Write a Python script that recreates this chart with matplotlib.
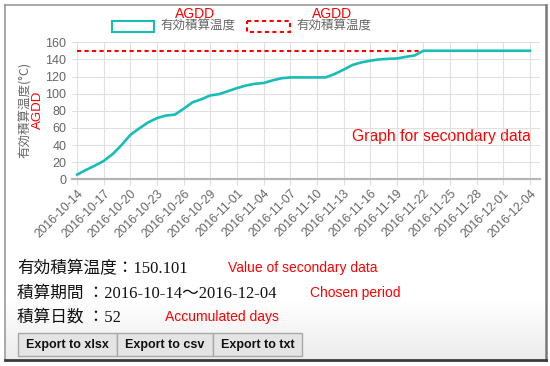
import numpy as np
import pandas as pd
import matplotlib
matplotlib.use('Agg')
import matplotlib.pyplot as plt
import matplotlib.dates as mdates
from matplotlib.patches import Rectangle

# accumulated growing degree days (AGDD), one value per day
start_date = '2016-10-14'
end_date = '2016-12-04'
agdd = [5.5, 11, 16, 21.5, 29.5, 40, 52, 59.5, 66.5, 71.5, 74.5, 75.5, 82.5, 90,
        93.5, 98, 99.5, 103,
        106.5, 109.5, 111.5, 112.5, 115.5, 118, 119, 119, 119, 119, 119, 123,
        128, 133.5, 136.5, 138.5, 140, 140.7, 141.1, 143, 144.6, 150.101,
        150.101, 150.101, 150.101, 150.101, 150.101, 150.101, 150.101, 150.101,
        150.101, 150.101, 150.101, 150.101]
target_value = 150.101
y_ticks = [0, 20, 40, 60, 80, 100, 120, 140, 160]
series_label = '有効積算温度'
y_label = '有効積算温度(°C)'
summary_lines = ['有効積算温度：150.101',
                 '積算期間 ：2016-10-14〜2016-12-04',
                 '積算日数 ：52']
notes = ['Value of secondary data', 'Chosen period', 'Accumulated days']
buttons = ['Export to xlsx', 'Export to csv', 'Export to txt']

dates = pd.date_range(start_date, end_date, freq='D')
target = [target_value] * len(dates)

CYAN = '#17bdb6'
RED = '#ff0000'
GRAY_TXT = '#666666'
JP = ['Noto Sans CJK JP', 'DejaVu Sans']
SERIF_JP = ['Liberation Serif', 'Noto Sans CJK JP']
SANS = ['Liberation Sans', 'DejaVu Sans']

W, H = 550, 366
fig = plt.figure(figsize=(W / 100, H / 100), dpi=100)

# background layer in pixel coordinates
bg = fig.add_axes([0, 0, 1, 1], zorder=0)
bg.set_xlim(0, W)
bg.set_ylim(H, 0)
bg.set_axis_off()

grad = np.linspace(1.0, 0.925, 64).reshape(-1, 1)
bg.imshow(np.dstack([grad, grad, grad]), extent=(6, 545, 359, 300),
          aspect='auto', zorder=0)

# outer frame
bg.plot([5, 546], [4.5, 4.5], color='#999999', lw=1.2, zorder=5)
bg.plot([5, 5], [4.5, 359], color='#999999', lw=1.2, zorder=5)
bg.plot([545.5, 545.5], [4.5, 360], color='#777777', lw=1.8, zorder=5)
bg.plot([5, 546], [359.5, 359.5], color='#3a3a3a', lw=2.0, zorder=5)

# legend
bg.add_patch(Rectangle((112, 21), 42, 11, facecolor='white', edgecolor=CYAN, lw=1.5, zorder=3))
bg.text(160, 26.5, series_label, family=JP, fontsize=9, color=GRAY_TXT, va='center', ha='left')
bg.add_patch(Rectangle((247, 21), 43, 11, facecolor='white', edgecolor=RED, lw=1.5,
                       linestyle=(0, (2, 1.6)), zorder=3))
bg.text(296, 26.5, series_label, family=JP, fontsize=9, color=GRAY_TXT, va='center', ha='left')
bg.text(195, 14, 'AGDD', family=SANS, fontsize=10, color=RED, va='center', ha='center')
bg.text(332, 14, 'AGDD', family=SANS, fontsize=10, color=RED, va='center', ha='center')

# y axis labels
bg.text(25, 110, y_label, family=JP, fontsize=9, color=GRAY_TXT, rotation=90,
        va='center', ha='center')
bg.text(38, 110, 'AGDD', family=SANS, fontsize=9.5, color=RED, rotation=90,
        va='center', ha='center')

bg.text(352, 137, 'Graph for secondary data', family=SANS, fontsize=11.3, color=RED,
        va='center', ha='left', zorder=6)

# summary text
for txt, y in zip(summary_lines, [269, 294, 318]):
    bg.text(17, y, txt, family=SERIF_JP, fontsize=12, color='#111111', va='center', ha='left')
for txt, x, y in zip(notes, [228, 310, 165], [268, 293, 317]):
    bg.text(x, y, txt, family=SANS, fontsize=10, color=RED, va='center', ha='left')

# export buttons
bx = [18, 117, 213, 302]
for i, label in enumerate(buttons):
    bg.add_patch(Rectangle((bx[i], 333), bx[i + 1] - bx[i], 23, facecolor='#e4e4e4',
                           edgecolor='#a8a8a8', lw=1.0, zorder=3))
    bg.text((bx[i] + bx[i + 1]) / 2, 345, label, family=SANS, fontsize=9, weight='bold',
            color='#111111', va='center', ha='center', zorder=4)

# chart
ax = fig.add_axes([72 / W, 1 - 179.3 / H, (540 - 72) / W, (179.3 - 42.3) / H], zorder=2)
ax.patch.set_alpha(0)
ax.plot(dates, target, color=RED, lw=1.5, dashes=(2, 1.6), zorder=3)
ax.plot(dates, agdd, color=CYAN, lw=1.9, zorder=4)

ax.set_ylim(0, 160)
ax.set_yticks(y_ticks)
ax.set_xlim(dates[0] - pd.Timedelta(hours=14), dates[-1] + pd.Timedelta(hours=27))
ax.set_xticks(dates[::3])
ax.xaxis.set_major_formatter(mdates.DateFormatter('%Y-%m-%d'))
ax.grid(True, color='#e0e0e0', lw=0.8)
for side in ['top', 'left', 'right']:
    ax.spines[side].set_visible(False)
ax.spines['bottom'].set_color('#b5b5b5')
ax.spines['bottom'].set_linewidth(1.6)
ax.tick_params(axis='y', length=0, pad=4, labelsize=9, labelcolor=GRAY_TXT)
ax.tick_params(axis='x', length=4, color='#dddddd', pad=2, labelsize=8.8, labelcolor=GRAY_TXT)
for lab in ax.get_yticklabels():
    lab.set_family(SANS)
for lab in ax.get_xticklabels():
    lab.set_family(SANS)
    lab.set_rotation(45)
    lab.set_ha('right')
    lab.set_va('top')
    lab.set_rotation_mode('anchor')

fig.savefig('out.png', dpi=100, facecolor='white')
